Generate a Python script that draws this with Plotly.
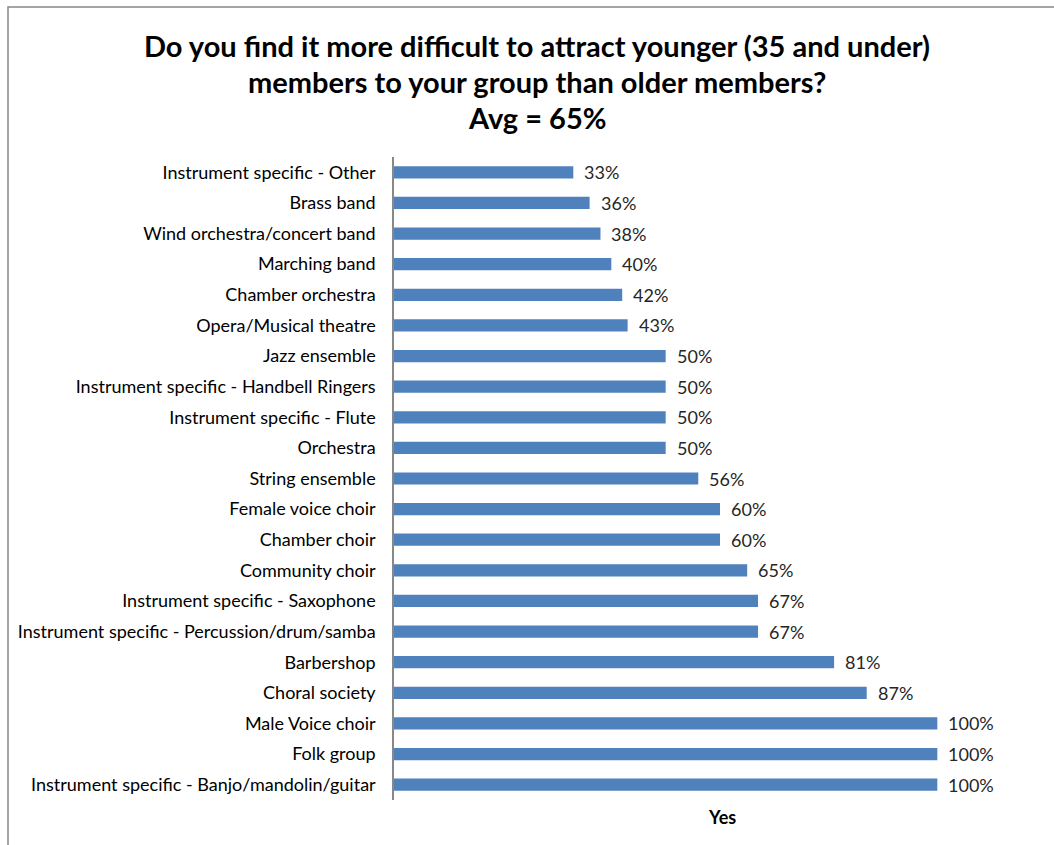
import plotly.graph_objects as go

# Survey responses: share answering "Yes", per group type
categories = [
    "Instrument specific - Other",
    "Brass band",
    "Wind orchestra/concert band",
    "Marching band",
    "Chamber orchestra",
    "Opera/Musical theatre",
    "Jazz ensemble",
    "Instrument specific - Handbell Ringers",
    "Instrument specific - Flute",
    "Orchestra",
    "String ensemble",
    "Female voice choir",
    "Chamber choir",
    "Community choir",
    "Instrument specific - Saxophone",
    "Instrument specific - Percussion/drum/samba",
    "Barbershop",
    "Choral society",
    "Male Voice choir",
    "Folk group",
    "Instrument specific - Banjo/mandolin/guitar",
]
yes_pct = [33, 36, 38, 40, 42, 43, 50, 50, 50, 50, 56, 60, 60, 65, 67, 67, 81, 87, 100, 100, 100]

title_lines = [
    "Do you find it more difficult to attract younger (35 and under)",
    "members to your group than older members?",
    "Avg = 65%",
]
axis_title = "Yes"

W, H = 1054, 845
ML, MR, MT, MB = 394, 8, 157, 45
PW, PH = W - ML - MR, H - MT - MB

FONT = "Lato, Carlito, Calibri, sans-serif"
BAR = "#4F81BD"


def px_x(x):
    return (x - ML) / PW


def px_y(y):
    return (H - MB - y) / PH


fig = go.Figure(
    go.Bar(
        x=yes_pct,
        y=categories,
        orientation="h",
        marker=dict(color=BAR, line=dict(width=0)),
        width=0.4,
        hoverinfo="x+y",
    )
)

# value labels just right of each bar end
for cat, v in zip(categories, yes_pct):
    fig.add_annotation(
        x=v, y=cat, xref="x", yref="y",
        text=f"{v}%", showarrow=False,
        xanchor="left", yanchor="middle", xshift=9,
        font=dict(family=FONT, size=18, color="#262626"),
    )

# three-line title
for y_pix, line in zip([45, 81, 117], title_lines):
    fig.add_annotation(
        x=px_x(537), y=px_y(y_pix), xref="paper", yref="paper",
        text=f"<b>{line}</b>", showarrow=False,
        xanchor="center", yanchor="middle",
        font=dict(family=FONT, size=29, color="#000000"),
    )

fig.add_annotation(
    x=px_x(722), y=px_y(817), xref="paper", yref="paper",
    text=f"<b>{axis_title}</b>", showarrow=False,
    xanchor="center", yanchor="middle",
    font=dict(family=FONT, size=18, color="#000000"),
)

# chart-area border
fig.add_shape(
    type="rect", xref="paper", yref="paper",
    x0=px_x(8), x1=px_x(W + 20), y0=px_y(H + 20), y1=px_y(7),
    line=dict(color="#868686", width=1.5), fillcolor="rgba(0,0,0,0)",
    layer="below",
)

fig.update_layout(
    width=W, height=H,
    margin=dict(l=ML, r=MR, t=MT, b=MB, pad=0),
    paper_bgcolor="white", plot_bgcolor="white",
    showlegend=False,
    font=dict(family=FONT, size=18, color="#000000"),
    xaxis=dict(
        range=[0, 120], showgrid=False, zeroline=False,
        showticklabels=False, showline=False, ticks="",
    ),
    yaxis=dict(
        autorange="reversed", showgrid=False, zeroline=False,
        showline=True, linecolor="#888888", linewidth=1.5,
        ticks="", ticklabelstandoff=13,
        tickfont=dict(family=FONT, size=18, color="#000000"),
    ),
)

fig.write_html("out.html")
